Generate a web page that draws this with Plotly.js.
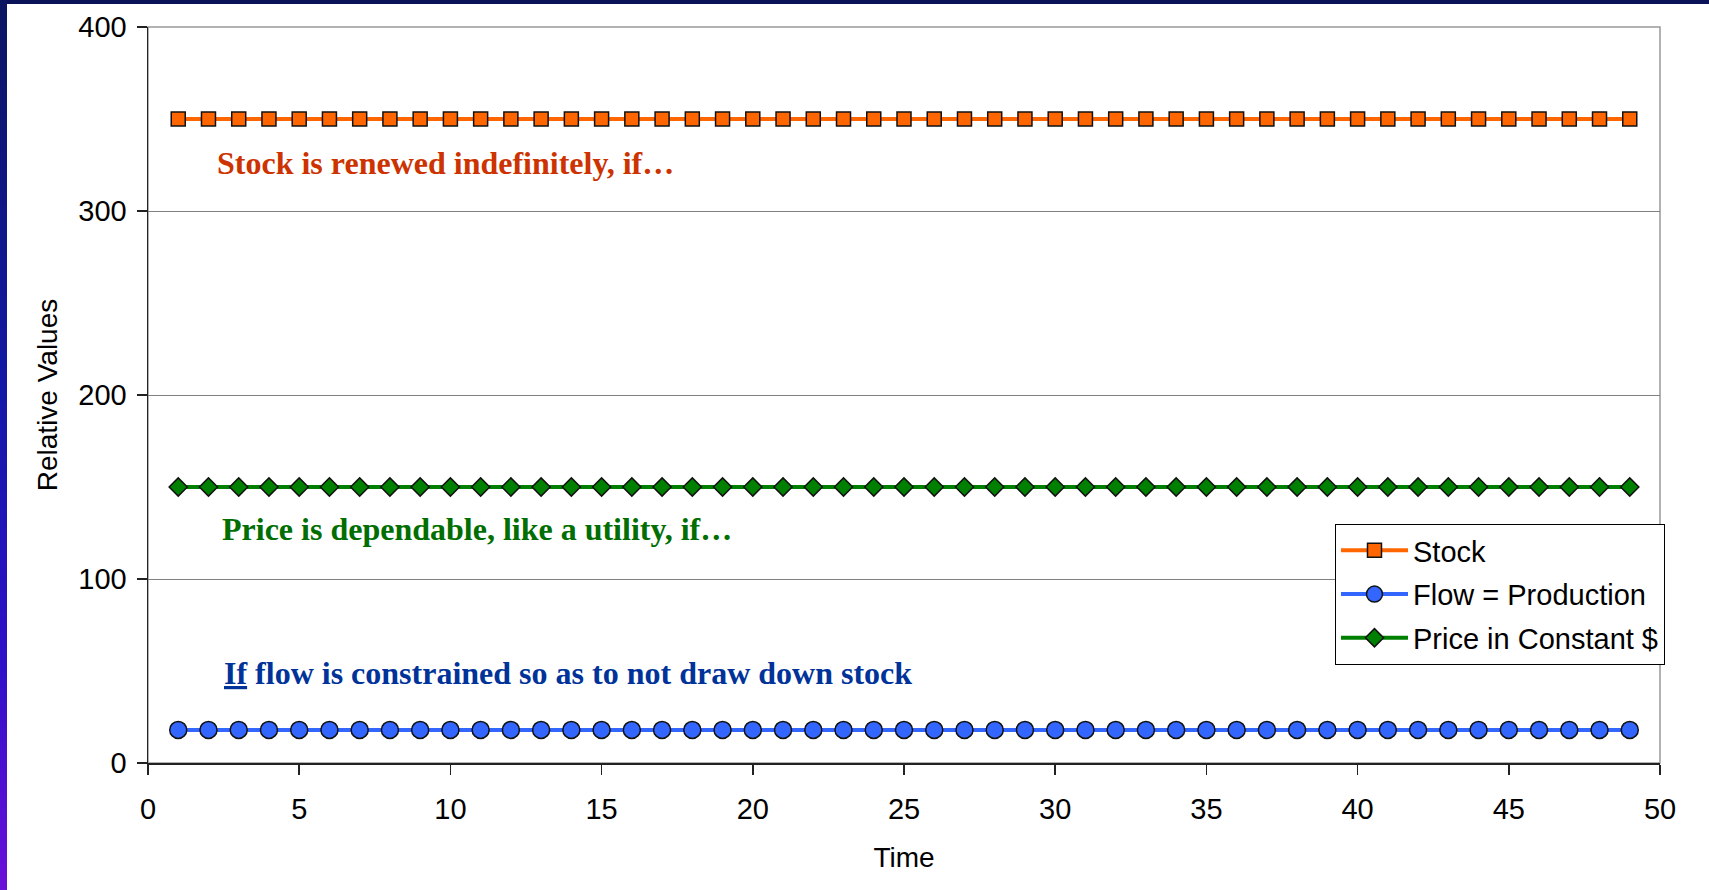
<!DOCTYPE html>
<html>
<head>
<meta charset="utf-8">
<script src="https://cdn.plot.ly/plotly-3.0.1.min.js"></script>
<style>
  html, body { margin: 0; padding: 0; background: #ffffff; }
  #wrap { position: relative; width: 1709px; height: 890px; overflow: hidden; }
  #chart { position: absolute; left: 0; top: 0; width: 1709px; height: 890px; }
  /* slide frame: navy band on top, blue-to-violet band down the left edge */
  #frameTop { position: absolute; left: 0; top: 0; width: 1709px; height: 4px; background: #0b1358; z-index: 5; }
  #frameLeft { position: absolute; left: 0; top: 0; width: 7px; height: 890px; z-index: 5;
               background: linear-gradient(to bottom, #0b1560 0%, #1418a8 45%, #3010c8 75%, #6a10d8 100%); }
</style>
</head>
<body>
<div id="wrap">
  <div id="chart"></div>
  <div id="frameTop"></div>
  <div id="frameLeft"></div>
</div>
<script>
// Time steps 1..49
const time = [1,2,3,4,5,6,7,8,9,10,11,12,13,14,15,16,17,18,19,20,21,22,23,24,25,
              26,27,28,29,30,31,32,33,34,35,36,37,38,39,40,41,42,43,44,45,46,47,48,49];

// Series values (relative units)
const stockValues = [350,350,350,350,350,350,350,350,350,350,350,350,350,350,350,350,350,
                     350,350,350,350,350,350,350,350,350,350,350,350,350,350,350,350,350,
                     350,350,350,350,350,350,350,350,350,350,350,350,350,350,350];
const flowValues  = [18,18,18,18,18,18,18,18,18,18,18,18,18,18,18,18,18,
                     18,18,18,18,18,18,18,18,18,18,18,18,18,18,18,18,18,
                     18,18,18,18,18,18,18,18,18,18,18,18,18,18,18];
const priceValues = [150,150,150,150,150,150,150,150,150,150,150,150,150,150,150,150,150,
                     150,150,150,150,150,150,150,150,150,150,150,150,150,150,150,150,150,
                     150,150,150,150,150,150,150,150,150,150,150,150,150,150,150];

const seriesNames = ["Stock", "Flow = Production", "Price in Constant $"];
const xTicks = [0,5,10,15,20,25,30,35,40,45,50];
const yTicks = [0,100,200,300,400];

const sans = "Liberation Sans, Arial, sans-serif";
const serif = "Liberation Serif, Times New Roman, serif";

const traces = [
  {
    x: time, y: stockValues, name: seriesNames[0], type: "scatter", mode: "lines+markers",
    legendgroup: "stock",
    line: { color: "#ff6600", width: 4 },
    marker: { symbol: "square", size: 14, color: "#ff6600", line: { color: "#111111", width: 1.5 } }
  },
  {
    x: time, y: flowValues, name: seriesNames[1], type: "scatter", mode: "lines+markers",
    legendgroup: "flow",
    line: { color: "#3366ff", width: 4 },
    marker: { symbol: "circle", size: 17, color: "#3366ff", line: { color: "#111111", width: 1.5 } }
  },
  {
    x: time, y: priceValues, name: seriesNames[2], type: "scatter", mode: "lines+markers",
    legendgroup: "price",
    line: { color: "#008000", width: 4 },
    marker: { symbol: "diamond", size: 14, color: "#008000", line: { color: "#111111", width: 1.5 } }
  }
];

const layout = {
  width: 1709, height: 890,
  margin: { l: 148, r: 49, t: 27, b: 127, pad: 0 },
  paper_bgcolor: "#ffffff",
  plot_bgcolor: "#ffffff",
  showlegend: true,
  font: { family: sans, size: 29, color: "#000000" },
  xaxis: {
    range: [0, 50], tickvals: xTicks, ticktext: xTicks.map(String),
    showgrid: false, zeroline: false,
    showline: true, linecolor: "#222222", linewidth: 1.5,
    ticks: "outside", ticklen: 10, tickwidth: 1.5, tickcolor: "#222222",
    ticklabelstandoff: 10,
    tickfont: { family: sans, size: 29, color: "#000000" },
    title: { text: "Time", font: { family: sans, size: 28, color: "#000000" }, standoff: 23 },
    fixedrange: true
  },
  yaxis: {
    range: [0, 400], tickvals: yTicks, ticktext: yTicks.map(String),
    showgrid: true, gridcolor: "#808080", gridwidth: 1,
    zeroline: false,
    showline: true, linecolor: "#222222", linewidth: 1.5,
    ticks: "outside", ticklen: 10, tickwidth: 1.5, tickcolor: "#222222",
    ticklabelstandoff: 4,
    tickfont: { family: sans, size: 29, color: "#000000" },
    title: { text: "Relative Values", font: { family: sans, size: 28, color: "#000000" }, standoff: 12 },
    fixedrange: true
  },
  legend: {
    x: 1.0033, y: 0.3247, xanchor: "right", yanchor: "top",
    bgcolor: "#ffffff", bordercolor: "#000000", borderwidth: 1,
    font: { family: sans, size: 29, color: "#000000" },
    itemwidth: 67,
    tracegroupgap: 3
  },
  shapes: [
    // plot-area frame (grey) on top and right
    { type: "rect", xref: "paper", yref: "paper", x0: 0, x1: 1, y0: 0, y1: 1,
      line: { color: "#999999", width: 1.5 }, layer: "below" }
  ],
  annotations: [
    { xref: "x", yref: "y", x: 2.2, y: 326, xanchor: "left", yanchor: "middle", showarrow: false,
      text: "<b>Stock is renewed indefinitely, if…</b>",
      font: { family: serif, size: 32, color: "#cc3300" } },
    { xref: "x", yref: "y", x: 2.37, y: 127, xanchor: "left", yanchor: "middle", showarrow: false,
      text: "<b>Price is dependable, like a utility, if…</b>",
      font: { family: serif, size: 32, color: "#006e00" } },
    { xref: "x", yref: "y", x: 2.44, y: 49, xanchor: "left", yanchor: "middle", showarrow: false,
      text: "<b><u>If</u> flow is constrained so as to not draw down stock</b>",
      font: { family: serif, size: 32, color: "#003399" } }
  ]
};

Plotly.newPlot("chart", traces, layout, { displayModeBar: false, staticPlot: true });
</script>
</body>
</html>
